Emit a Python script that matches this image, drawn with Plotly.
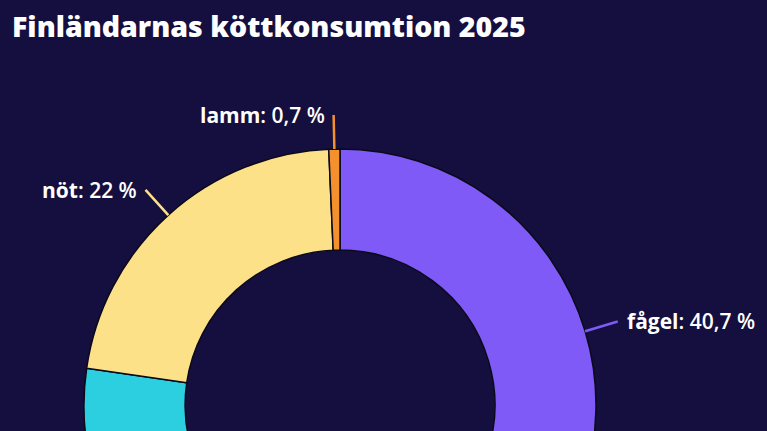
import math
import plotly.graph_objects as go

# ---- data ----
categories = ["fågel", "gris", "nöt", "lamm"]
shares = [40.7, 36.6, 22.0, 0.7]
colors = ["#7f5af6", "#2ccfe0", "#fde189", "#f5902e"]
title_text = "Finländarnas köttkonsumtion 2025"

# ---- layout geometry ----
W, H = 767, 700
VIEW_H = 431
L, T, D = 84, 149, 512          # left margin, top margin, donut domain size
R = W - L - D
B = H - T - D
BG = "#140f3e"

fig = go.Figure(go.Pie(
    labels=categories,
    values=shares,
    marker=dict(colors=colors, line=dict(color="#0b0a1c", width=1.5)),
    hole=0.605,
    sort=False,
    direction="clockwise",
    rotation=0,
    textinfo="none",
    hoverinfo="label+percent",
    showlegend=False,
))

def fmt(v):
    return f"{v:g}".replace(".", ",") + " %"

total = sum(shares)
cum = 0.0
shapes, annotations = [], []
r0 = 0.5
line_len = 34 / D
gap = 7 / D
for cat, v, c in zip(categories, shares, colors):
    mid = (cum + v / 2) / total * 2 * math.pi
    cum += v
    dx, dy = math.sin(mid), math.cos(mid)
    x0, y0 = 0.5 + r0 * dx, 0.5 + r0 * dy
    x1, y1 = 0.5 + (r0 + line_len) * dx, 0.5 + (r0 + line_len) * dy
    if T + (1 - y1) * D > VIEW_H - 10:
        continue  # label falls below the visible window (as in the reference)
    shapes.append(dict(type="line", xref="paper", yref="paper",
                       x0=x0, y0=y0, x1=x1, y1=y1,
                       line=dict(color=c, width=2.5)))
    right = dx > 0.05
    annotations.append(dict(
        xref="paper", yref="paper",
        x=x1 + (gap if right else -gap * 0.9), y=y1,
        xanchor="left" if right else "right", yanchor="middle",
        text=f"<b>{cat}</b>: {fmt(v)}",
        showarrow=False,
        font=dict(family="Open Sans", size=21, color="white", weight=600),
    ))

fig.update_layout(
    width=W, height=H,
    margin=dict(l=L, r=R, t=T, b=B),
    paper_bgcolor=BG, plot_bgcolor=BG,
    shapes=shapes, annotations=annotations,
    title=dict(
        text=title_text,
        xref="container", yref="container",
        x=12 / W, y=1 - 27 / H, xanchor="left", yanchor="middle",
        font=dict(family="Open Sans", size=28.5, color="white", weight=800),
    ),
)

fig.write_html(
    "out.html",
    config={"displayModeBar": False},
    post_script="document.body.style.overflow='hidden';document.documentElement.style.overflow='hidden';document.body.style.background='" + BG + "';",
)
